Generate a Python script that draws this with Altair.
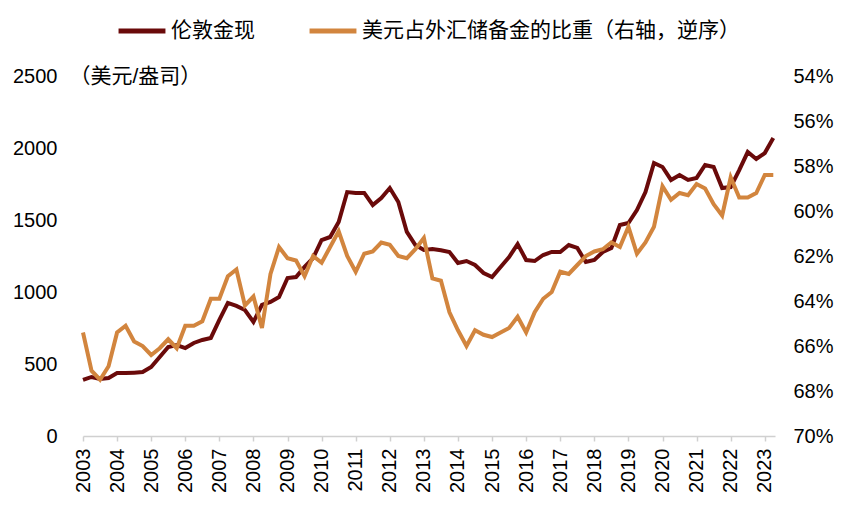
import altair as alt
import pandas as pd

gold_name = "伦敦金现"
share_name = "美元占外汇储备金的比重（右轴，逆序）"

# London spot gold, USD/oz, quarterly from 2003Q1
gold = [389, 410, 396, 403, 437, 437, 440, 444, 479, 549,
        618, 632, 611, 646, 667, 681, 806, 924, 903, 875,
        792, 910, 931, 965, 1097, 1104, 1174, 1236, 1361, 1382,
        1486, 1694, 1688, 1688, 1604, 1653, 1722, 1625, 1417, 1326,
        1292, 1299, 1290, 1278, 1201, 1215, 1188, 1132, 1104, 1174,
        1243, 1333, 1222, 1215, 1257, 1278, 1278, 1326, 1306, 1208,
        1222, 1278, 1306, 1465, 1479, 1569, 1694, 1896, 1868, 1778,
        1812, 1778, 1792, 1882, 1868, 1722, 1729, 1847, 1972, 1924,
        1965, 2069]

# USD share of FX reserves, %, quarterly from 2003Q1 (right axis, reversed)
share = [65.4, 67.1, 67.5, 66.9, 65.4, 65.1, 65.8, 66.0, 66.4, 66.1,
         65.7, 66.1, 65.1, 65.1, 64.9, 63.9, 63.9, 62.9, 62.6, 64.2,
         63.8, 65.2, 62.8, 61.6, 62.1, 62.2, 62.9, 62.0, 62.3, 61.6,
         60.9, 62.0, 62.7, 61.9, 61.8, 61.4, 61.5, 62.0, 62.1, 61.7,
         61.2, 63.0, 63.1, 64.5, 65.3, 66.0, 65.3, 65.5, 65.6, 65.4,
         65.2, 64.7, 65.4, 64.5, 63.9, 63.6, 62.7, 62.8, 62.4, 62.0,
         61.8, 61.7, 61.4, 61.6, 60.7, 61.9, 61.4, 60.7, 58.9, 59.5,
         59.2, 59.3, 58.8, 59.0, 59.7, 60.2, 58.5, 59.4, 59.4, 59.2,
         58.4, 58.4]

quarters = [2003 + i / 4 for i in range(len(gold))]
year_ticks = list(range(2003, 2024))
left_ticks = [0, 500, 1000, 1500, 2000, 2500]
right_ticks = [54, 56, 58, 60, 62, 64, 66, 68, 70]

df_gold = pd.DataFrame({"t": quarters, "v": gold, "s": gold_name})
df_share = pd.DataFrame({"t": quarters, "v": share, "s": share_name})

FONT = "Liberation Sans, Noto Sans CJK SC, sans-serif"
DARK = "#6A0A0A"
ORANGE = "#D2853E"
FS = 20
CJK_FS = 21

color = alt.Color(
    "s:N",
    scale=alt.Scale(domain=[gold_name, share_name], range=[DARK, ORANGE]),
    legend=alt.Legend(
        title=None, orient="none", direction="horizontal",
        legendX=33, legendY=-71,
        symbolType="stroke", symbolStrokeWidth=5, symbolSize=2200,
        labelFontSize=CJK_FS, labelFont=FONT, labelColor="#000",
        labelOffset=3, columnPadding=44, labelLimit=600,
    ),
)

x = alt.X(
    "t:Q",
    scale=alt.Scale(domain=[2003, 2023.3], nice=False, zero=False),
    axis=alt.Axis(
        values=year_ticks, format="d", labelAngle=-90, title=None, grid=False,
        domainColor="#d0d0d0", domainWidth=1.5, tickColor="#d0d0d0", tickWidth=1.5,
        tickSize=5, labelFontSize=FS, labelPadding=7, labelFont=FONT,
        labelColor="#000", labelFlush=False, labelOverlap=False,
    ),
)

left = alt.Chart(df_gold).mark_line(strokeWidth=4).encode(
    x=x,
    y=alt.Y(
        "v:Q",
        scale=alt.Scale(domain=[0, 2500], nice=False, zero=True),
        axis=alt.Axis(
            values=left_ticks, format="d", title="（美元/盎司）", titleAngle=0, titleX=-14,
            titleY=0, titleAlign="left", titleBaseline="middle",
            titleFontSize=CJK_FS, titleFontWeight="normal", titleFont=FONT,
            titleColor="#000", domain=False, ticks=False, grid=False,
            labelFontSize=FS, labelPadding=26, labelFont=FONT, labelColor="#000",
            labelFlush=False, labelOverlap=False,
        ),
    ),
    color=color,
)

right = alt.Chart(df_share).mark_line(strokeWidth=4).encode(
    x=x,
    y=alt.Y(
        "v:Q",
        scale=alt.Scale(domain=[54, 70], reverse=True, nice=False, zero=False),
        axis=alt.Axis(
            orient="right", values=right_ticks, labelExpr="datum.value + '%'",
            title=None, domain=False, ticks=False, grid=False,
            labelFontSize=FS, labelPadding=18, labelFont=FONT, labelColor="#000",
            labelFlush=False, labelOverlap=False,
        ),
    ),
    color=color,
)

chart = (
    alt.layer(left, right)
    .resolve_scale(y="independent")
    .properties(
        width=692, height=360,
        padding={"left": 75, "top": 68, "right": 80, "bottom": 80},
        autosize=alt.AutoSizeParams(type="none"),
        background="white",
    )
    .configure_view(strokeWidth=0)
)

chart.save("out.html", embed_options={"renderer": "svg", "actions": False})
